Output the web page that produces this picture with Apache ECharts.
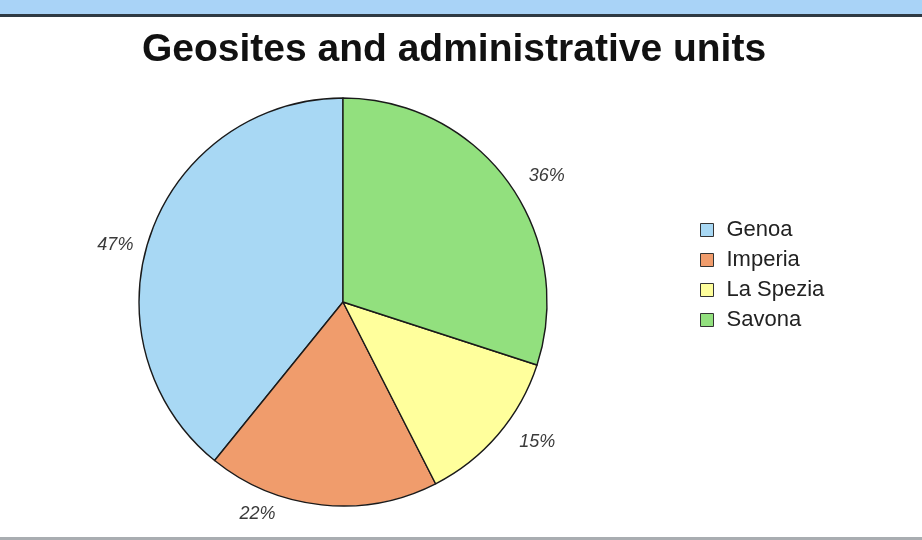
<!DOCTYPE html>
<html>
<head>
<meta charset="utf-8">
<script src="https://cdn.jsdelivr.net/npm/echarts@6/dist/echarts.min.js"></script>
<style>
  html, body { margin: 0; padding: 0; background: #fff; }
  #chart { width: 922px; height: 540px; }
</style>
</head>
<body>
<div id="chart"></div>
<script>
// data
var units = ["Genoa", "Imperia", "La Spezia", "Savona"];
var geosites = [47, 22, 15, 36];
var colors = ["#a8d8f4", "#f09c6c", "#ffff9c", "#92e07e"];
// small nudges so the value labels sit where the original put them
var labelNudge = [[-1, 15], [-40, -3], [7, 0], [6, 1]];

var myChart = echarts.init(document.getElementById("chart"));

var pieData = [];
for (var i = 0; i < units.length; i++) {
    pieData.push({name: units[i], value: geosites[i], itemStyle: {color: colors[i]}});
}

var option = {
    backgroundColor: "#ffffff",
    animation: false,
    title: {
        text: "Geosites and administrative units",
        left: 449, top: 26, textAlign: "center",
        textStyle: {fontFamily: "Liberation Sans", fontWeight: "bold", fontSize: 39, color: "#111"}
    },
    legend: {
        orient: "vertical",
        left: 695, top: 214,
        itemWidth: 13, itemHeight: 13, itemGap: 8,
        icon: "rect",
        itemStyle: {borderColor: "#333", borderWidth: 1},
        textStyle: {fontFamily: "Liberation Sans", fontSize: 22, color: "#222", padding: [0, 0, 0, 8]},
        data: units
    },
    graphic: [
        {type: "rect", shape: {x: 0, y: 0, width: 922, height: 14}, style: {fill: "#a9d3f7"}},
        {type: "rect", shape: {x: 0, y: 14, width: 922, height: 3}, style: {fill: "#2f3a44"}},
        {type: "rect", shape: {x: 0, y: 537, width: 922, height: 3}, style: {fill: "#a9adb1"}}
    ],
    series: [{
        type: "pie",
        center: [343, 302],
        radius: 204,
        startAngle: 90,
        clockwise: false,
        itemStyle: {borderColor: "#1a1a1a", borderWidth: 1.4},
        label: {
            show: true, position: "outside",
            formatter: "{c}%",
            fontFamily: "Liberation Sans", fontStyle: "italic", fontSize: 18, color: "#3a3a3a"
        },
        labelLine: {show: false, length: 12, length2: 0},
        labelLayout: function (params) {
            var n = labelNudge[params.dataIndex];
            return {dx: n[0], dy: n[1]};
        },
        emphasis: {disabled: true},
        data: pieData
    }]
};
myChart.setOption(option);
</script>
</body>
</html>
